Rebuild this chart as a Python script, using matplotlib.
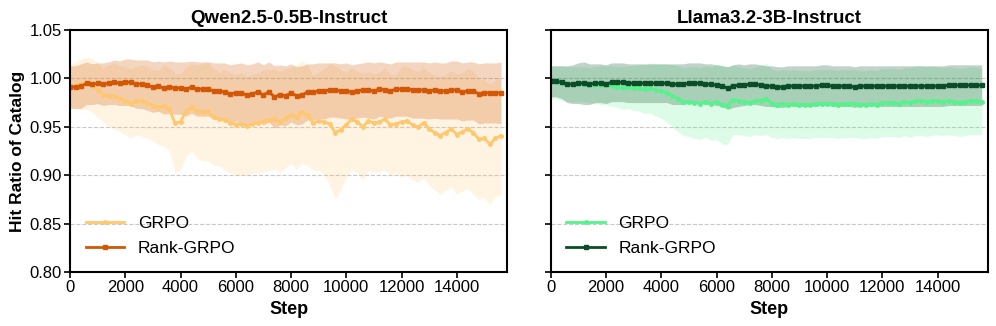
import numpy as np
import matplotlib
matplotlib.use("Agg")
import matplotlib.pyplot as plt

plt.rcParams['font.family'] = ['Liberation Sans', 'DejaVu Sans']

# Qwen2.5-0.5B-Instruct, un punto cada 200 pasos
qwen_grpo = [0.992, 0.993, 0.994, 0.995, 0.993, 0.988, 0.983, 0.982, 0.982, 0.979,
             0.977, 0.974, 0.977, 0.977, 0.975, 0.972, 0.970, 0.972, 0.968, 0.954,
             0.955, 0.966, 0.970, 0.966, 0.965, 0.966, 0.960, 0.958, 0.957, 0.954,
             0.952, 0.953, 0.951, 0.953, 0.954, 0.956, 0.957, 0.958, 0.955, 0.959,
             0.962, 0.960, 0.965, 0.962, 0.954, 0.956, 0.955, 0.953, 0.944, 0.947,
             0.952, 0.958, 0.955, 0.950, 0.956, 0.954, 0.955, 0.958, 0.952, 0.953,
             0.955, 0.956, 0.952, 0.950, 0.954, 0.948, 0.944, 0.941, 0.944, 0.948,
             0.942, 0.945, 0.948, 0.944, 0.937, 0.938, 0.932, 0.938, 0.941]
qwen_grpo_std = [0.022, 0.024, 0.026, 0.027, 0.028, 0.028, 0.028, 0.032, 0.034, 0.034,
                 0.035, 0.036, 0.035, 0.037, 0.037, 0.037, 0.038, 0.042, 0.043, 0.051,
                 0.050, 0.046, 0.045, 0.048, 0.050, 0.051, 0.050, 0.048, 0.052, 0.052,
                 0.052, 0.053, 0.051, 0.051, 0.051, 0.053, 0.052, 0.052, 0.052, 0.051,
                 0.050, 0.054, 0.053, 0.052, 0.049, 0.051, 0.055, 0.063, 0.069, 0.062,
                 0.054, 0.053, 0.052, 0.055, 0.051, 0.051, 0.051, 0.053, 0.052, 0.051,
                 0.057, 0.056, 0.057, 0.057, 0.057, 0.058, 0.059, 0.061, 0.060, 0.060,
                 0.062, 0.061, 0.062, 0.064, 0.062, 0.061, 0.062, 0.060, 0.061]
qwen_rank = [0.991, 0.991, 0.992, 0.995, 0.994, 0.995, 0.994, 0.995, 0.996, 0.995,
             0.996, 0.996, 0.994, 0.994, 0.993, 0.991, 0.992, 0.990, 0.991, 0.990,
             0.990, 0.989, 0.991, 0.989, 0.989, 0.989, 0.987, 0.987, 0.986, 0.984,
             0.985, 0.985, 0.983, 0.984, 0.986, 0.983, 0.986, 0.981, 0.983, 0.982,
             0.985, 0.982, 0.983, 0.986, 0.986, 0.987, 0.987, 0.988, 0.988, 0.987,
             0.987, 0.986, 0.987, 0.988, 0.988, 0.987, 0.989, 0.988, 0.987, 0.989,
             0.989, 0.989, 0.988, 0.988, 0.988, 0.987, 0.988, 0.987, 0.987, 0.988,
             0.988, 0.986, 0.987, 0.987, 0.984, 0.985, 0.985, 0.985, 0.985]
qwen_rank_std = [0.022, 0.022, 0.023, 0.022, 0.021, 0.021, 0.022, 0.022, 0.023, 0.023,
                 0.024, 0.024, 0.025, 0.025, 0.026, 0.026, 0.026, 0.027, 0.027, 0.027,
                 0.027, 0.028, 0.027, 0.028, 0.028, 0.028, 0.029, 0.029, 0.030, 0.030,
                 0.030, 0.031, 0.031, 0.031, 0.031, 0.031, 0.031, 0.032, 0.031, 0.031,
                 0.030, 0.030, 0.030, 0.029, 0.029, 0.029, 0.029, 0.028, 0.028, 0.028,
                 0.029, 0.028, 0.028, 0.028, 0.029, 0.029, 0.028, 0.028, 0.028, 0.028,
                 0.028, 0.028, 0.029, 0.029, 0.029, 0.029, 0.029, 0.029, 0.029, 0.030,
                 0.030, 0.030, 0.030, 0.030, 0.031, 0.031, 0.031, 0.031, 0.032]

# Llama3.2-3B-Instruct
llama_grpo = [0.996, 0.996, 0.995, 0.994, 0.994, 0.994, 0.994, 0.993, 0.993, 0.993,
              0.993, 0.992, 0.991, 0.990, 0.991, 0.990, 0.990, 0.989, 0.990, 0.988,
              0.987, 0.985, 0.982, 0.979, 0.976, 0.976, 0.975, 0.974, 0.976, 0.974,
              0.976, 0.973, 0.972, 0.978, 0.977, 0.976, 0.975, 0.977, 0.977, 0.979,
              0.974, 0.973, 0.974, 0.973, 0.974, 0.973, 0.973, 0.973, 0.974, 0.974,
              0.974, 0.974, 0.973, 0.974, 0.974, 0.974, 0.973, 0.973, 0.974, 0.973,
              0.975, 0.975, 0.975, 0.974, 0.976, 0.975, 0.977, 0.977, 0.976, 0.977,
              0.977, 0.976, 0.977, 0.976, 0.975, 0.976, 0.977, 0.977, 0.976]
llama_grpo_std = [0.017, 0.017, 0.018, 0.018, 0.018, 0.018, 0.018, 0.018, 0.019, 0.020,
                  0.020, 0.021, 0.021, 0.022, 0.022, 0.023, 0.024, 0.025, 0.026, 0.027,
                  0.028, 0.030, 0.032, 0.034, 0.035, 0.036, 0.037, 0.037, 0.037, 0.038,
                  0.039, 0.041, 0.040, 0.036, 0.035, 0.035, 0.035, 0.035, 0.036, 0.037,
                  0.035, 0.035, 0.035, 0.035, 0.035, 0.035, 0.035, 0.035, 0.035, 0.035,
                  0.035, 0.035, 0.035, 0.035, 0.035, 0.035, 0.035, 0.035, 0.035, 0.035,
                  0.035, 0.035, 0.035, 0.035, 0.035, 0.036, 0.036, 0.036, 0.036, 0.036,
                  0.035, 0.035, 0.035, 0.035, 0.035, 0.035, 0.035, 0.035, 0.034]
llama_rank = [0.997, 0.997, 0.996, 0.994, 0.994, 0.995, 0.995, 0.994, 0.995, 0.995,
              0.994, 0.996, 0.996, 0.996, 0.995, 0.995, 0.995, 0.995, 0.995, 0.995,
              0.995, 0.995, 0.994, 0.994, 0.994, 0.995, 0.995, 0.995, 0.994, 0.994,
              0.993, 0.992, 0.990, 0.992, 0.993, 0.993, 0.994, 0.994, 0.993, 0.992,
              0.992, 0.991, 0.991, 0.992, 0.992, 0.992, 0.992, 0.992, 0.992, 0.993,
              0.993, 0.992, 0.992, 0.992, 0.992, 0.991, 0.992, 0.992, 0.992, 0.992,
              0.992, 0.992, 0.992, 0.992, 0.992, 0.992, 0.992, 0.992, 0.992, 0.992,
              0.992, 0.992, 0.993, 0.993, 0.993, 0.993, 0.993, 0.993, 0.993]
llama_rank_std = [0.016, 0.016, 0.017, 0.019, 0.020, 0.021, 0.022, 0.021, 0.020, 0.020,
                  0.020, 0.020, 0.020, 0.020, 0.020, 0.020, 0.020, 0.020, 0.020, 0.020,
                  0.020, 0.020, 0.021, 0.021, 0.021, 0.021, 0.021, 0.021, 0.021, 0.021,
                  0.021, 0.021, 0.022, 0.022, 0.022, 0.021, 0.021, 0.021, 0.021, 0.021,
                  0.021, 0.021, 0.021, 0.021, 0.021, 0.021, 0.021, 0.021, 0.021, 0.021,
                  0.021, 0.021, 0.021, 0.021, 0.021, 0.021, 0.021, 0.021, 0.021, 0.021,
                  0.021, 0.021, 0.021, 0.021, 0.021, 0.021, 0.021, 0.021, 0.021, 0.021,
                  0.021, 0.021, 0.021, 0.021, 0.021, 0.021, 0.021, 0.021, 0.021]

titles = ['Qwen2.5-0.5B-Instruct', 'Llama3.2-3B-Instruct']
step_every = 200

paneles = [
    (qwen_grpo, qwen_grpo_std, qwen_rank, qwen_rank_std, '#ffc76e', '#d35806'),
    (llama_grpo, llama_grpo_std, llama_rank, llama_rank_std, '#56f28c', '#0b4d26'),
]

fig = plt.figure(figsize=(9.96, 3.26), dpi=100)
ax1 = fig.add_axes([0.0703, 0.1656, 0.4388, 0.7424])
ax2 = fig.add_axes([0.5530, 0.1656, 0.4388, 0.7424], sharey=ax1)

for ax, title, (g, gs, r, rs, cg, cr) in zip([ax1, ax2], titles, paneles):
    g = np.array(g); gs = np.array(gs)
    r = np.array(r); rs = np.array(rs)
    pasos = np.arange(len(g)) * step_every

    ax.fill_between(pasos, g - gs, g + gs, color=cg, alpha=0.2, lw=0)
    ax.fill_between(pasos, r - rs, r + rs, color=cr, alpha=0.25, lw=0)
    ax.plot(pasos, g, color=cg, lw=2, marker='o', markersize=2.5, label='GRPO')
    ax.plot(pasos, r, color=cr, lw=2, marker='s', markersize=3, label='Rank-GRPO')

    ax.set_title(title, fontsize=13.5, fontweight='bold', pad=5)
    ax.set_xlabel('Step', fontsize=13, fontweight='bold', labelpad=4)
    ax.set_xlim(0, 15820)
    ax.set_xticks(np.arange(0, 15000, 2000))
    ax.set_ylim(0.80, 1.05)
    ax.set_yticks([0.80, 0.85, 0.90, 0.95, 1.00, 1.05])
    ax.yaxis.grid(True, linestyle='--', color='#c8c8c8', lw=0.8)
    ax.set_axisbelow(True)
    ax.tick_params(labelsize=12, width=1.2, length=4, pad=2)
    for s in ax.spines.values():
        s.set_linewidth(1.5)
    ax.legend(loc='lower left', frameon=False, fontsize=12.5,
              bbox_to_anchor=(0.0, 0.0), handlelength=2.2, labelspacing=0.6)

ax1.set_ylabel('Hit Ratio of Catalog', fontsize=12.5, fontweight='bold', labelpad=3)
ax1.yaxis.set_major_formatter(plt.FormatStrFormatter('%.2f'))
plt.setp(ax2.get_yticklabels(), visible=False)

plt.savefig('out.png', dpi=100)
